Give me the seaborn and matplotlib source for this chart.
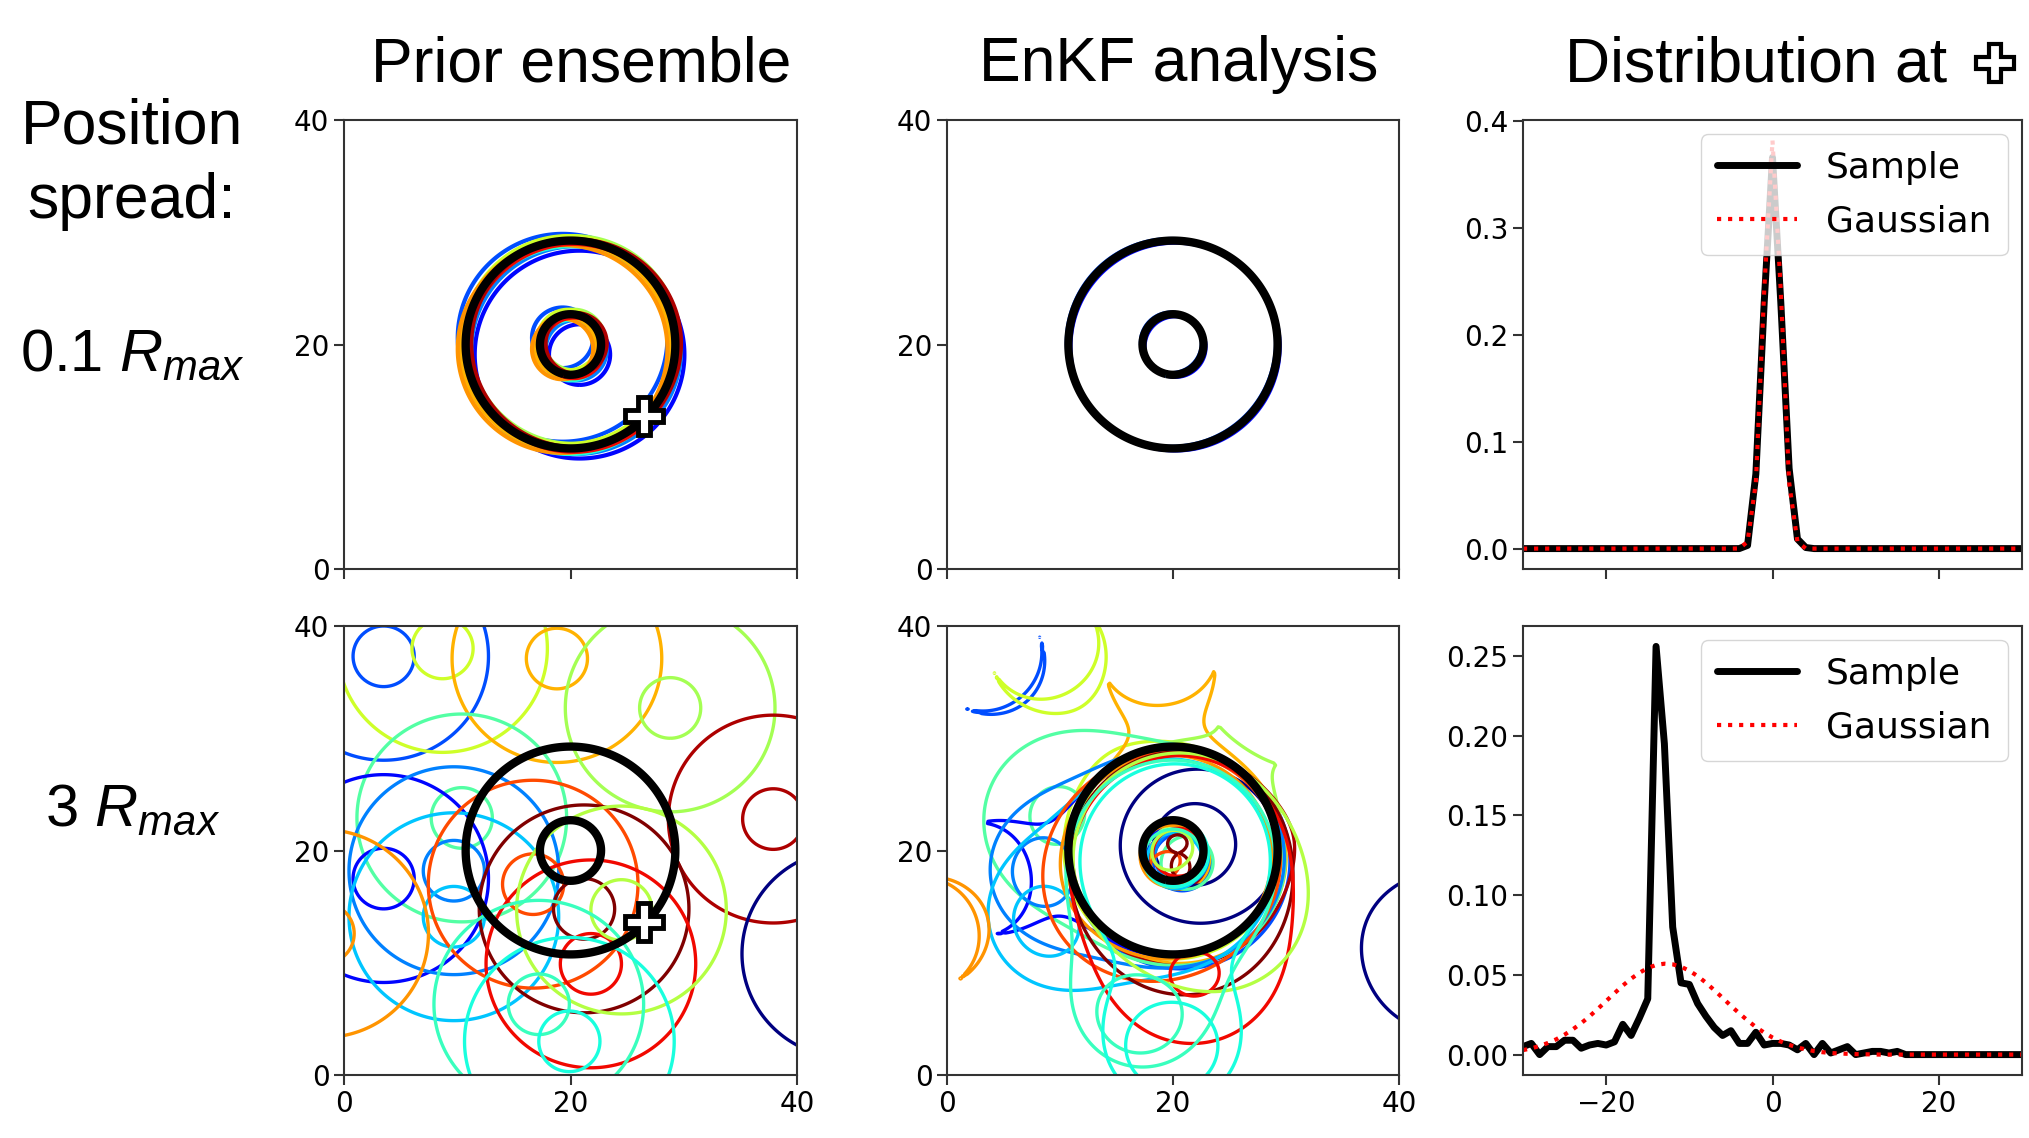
import numpy as np
import matplotlib
matplotlib.use("Agg")
import matplotlib.pyplot as plt
import seaborn as sns
from matplotlib.lines import Line2D

# ---------------- data ----------------
R_MAX = 5.0            # radius of maximum wind
RING_LEVEL = 0.397     # contour level (fraction of max wind) drawn for every vortex
TRUTH_X, TRUTH_Y = 20.0, 20.0
OBS_X, OBS_Y = 26.5, 13.6

# jet colour value of each ensemble member
member_color = [0.20, 0.60, 0.72, 0.55, 0.96, 0.00, 0.45, 0.13, 0.25,
                0.32, 0.75, 0.83, 1.00, 0.90, 0.57, 0.42, 0.38]

# row 1: position spread 0.1 Rmax
prior_small_x = [19.3, 19.8, 19.5, 20.3, 20.5, 20.4, 19.7, 20.8, 20.5,
                 19.9, 19.3, 20.2, 20.1, 20.3, 20.2, 19.9, 20.0]
prior_small_y = [20.6, 20.4, 19.9, 20.4, 20.1, 19.6, 20.1, 19.1, 19.5,
                 19.8, 19.6, 19.9, 20.0, 19.7, 20.2, 19.6, 19.5]
analysis_small_x = [19.82, 20.0, 20.05, 20.0, 20.1, 20.12, 19.95, 20.22, 20.05,
                    20.0, 19.95, 20.0, 20.05, 20.0, 19.98, 20.02, 20.08]
analysis_small_y = [20.18, 20.0, 19.95, 19.9, 20.0, 19.88, 20.0, 19.78, 19.95,
                    20.0, 20.02, 20.0, 19.98, 20.05, 20.0, 19.95, 19.92]

# row 2: position spread 3 Rmax
prior_large_x = [3.5, 8.7, 18.8, 28.8, 37.9, 44.4, 10.4, 3.5, 9.7,
                 9.7, -1.8, 16.7, 21.2, 21.8, 24.5, 17.2, 19.9]
prior_large_y = [37.3, 38.0, 37.1, 32.7, 22.8, 10.8, 22.9, 17.5, 18.2,
                 14.1, 12.6, 17.0, 14.8, 9.9, 14.7, 6.3, 3.0]
# EnKF analysis members: blend of the prior vortex and a re-centred vortex
analysis_large_x = [20.8, 20.0, 20.6, 20.2, 20.4, 22.0, 21.0, 20.3, 20.6,
                    20.0, 19.8, 20.5, 20.5, 20.5, 20.3, 20.0, 20.2]
analysis_large_y = [19.0, 19.6, 19.2, 19.8, 19.2, 20.5, 19.0, 19.8, 19.4,
                    19.0, 19.5, 19.5, 19.8, 19.5, 19.6, 19.2, 19.6]
analysis_prior_weight = [0.30, 0.30, 0.25, 0.14, 0.12, 0.60, 0.48, 0.26, 0.32,
                         0.35, 0.30, 0.45, 0.40, 0.45, 0.35, 0.33, 0.38]
analysis_center_weight = [1.00, 0.95, 0.95, 0.95, 1.00, 0.55, 0.80, 0.90, 0.90,
                          0.85, 0.90, 0.70, 0.75, 0.80, 0.80, 0.85, 0.75]

# distributions at the + point
dist_x = list(range(-30, 31))
sample_small = [0, 0, 0, 0, 0, 0, 0, 0, 0, 0,
                0, 0, 0, 0, 0, 0, 0, 0, 0, 0,
                0, 0, 0, 0, 0, 0, 0, 0.003, 0.07, 0.23,
                0.366, 0.23, 0.075, 0.009, 0.001, 0, 0, 0, 0, 0,
                0, 0, 0, 0, 0, 0, 0, 0, 0, 0,
                0, 0, 0, 0, 0, 0, 0, 0, 0, 0, 0]
gauss_small = [0, 0, 0, 0, 0, 0, 0, 0, 0, 0,
               0, 0, 0, 0, 0, 0, 0, 0, 0, 0,
               0, 0, 0, 0, 0, 0, 0.0001, 0.0064, 0.0617, 0.241,
               0.382, 0.241, 0.0617, 0.0064, 0.0001, 0, 0, 0, 0, 0,
               0, 0, 0, 0, 0, 0, 0, 0, 0, 0,
               0, 0, 0, 0, 0, 0, 0, 0, 0, 0, 0]
sample_large = [0.005, 0.007, 0.000, 0.005, 0.005, 0.009, 0.009, 0.004, 0.006, 0.007,
                0.006, 0.008, 0.019, 0.012, 0.023, 0.035, 0.256, 0.195, 0.080, 0.045,
                0.044, 0.032, 0.024, 0.017, 0.012, 0.015, 0.007, 0.007, 0.014, 0.006,
                0.007, 0.007, 0.006, 0.003, 0.007, 0.000, 0.007, 0.001, 0.003, 0.005,
                0.000, 0.001, 0.002, 0.002, 0.001, 0.002, 0.000, 0, 0, 0,
                0, 0, 0, 0, 0, 0, 0, 0, 0, 0, 0]
gauss_large = [0.0028, 0.0039, 0.0054, 0.0073, 0.0096, 0.0125, 0.0159, 0.0197, 0.0240, 0.0287,
               0.0336, 0.0385, 0.0433, 0.0476, 0.0513, 0.0543, 0.0562, 0.0570, 0.0566, 0.0551,
               0.0526, 0.0492, 0.0451, 0.0404, 0.0356, 0.0306, 0.0259, 0.0214, 0.0173, 0.0138,
               0.0107, 0.0082, 0.0061, 0.0045, 0.0032, 0.0022, 0.0015, 0.0010, 0.0007, 0.0005,
               0.0003, 0.0002, 0.0001, 0, 0, 0, 0, 0, 0, 0,
               0, 0, 0, 0, 0, 0, 0, 0, 0, 0, 0]

col_titles = ["Prior ensemble", "EnKF analysis", "Distribution at"]
row_labels = ["0.1 $R_{max}$", "3 $R_{max}$"]

# ---------------- style ----------------
sns.set_theme(style="ticks", rc={
    "axes.edgecolor": "0.2", "axes.linewidth": 1.5,
    "xtick.color": "0.2", "ytick.color": "0.2",
    "xtick.labelcolor": "black", "ytick.labelcolor": "black",
    "xtick.major.size": 7, "ytick.major.size": 7,
    "xtick.major.width": 1.5, "ytick.major.width": 1.5,
    "xtick.labelsize": 20, "ytick.labelsize": 20,
    "text.color": "black", "axes.labelcolor": "black",
})
plt.rcParams["font.family"] = ["DejaVu Sans"]
plt.rcParams["mathtext.fontset"] = "custom"
plt.rcParams["mathtext.rm"] = "Liberation Sans"
plt.rcParams["mathtext.it"] = "Liberation Sans:italic"

W, H = 2029, 1138
fig = plt.figure(figsize=(W / 100, H / 100), dpi=100)
cmap = matplotlib.colormaps["jet"]


def px_axes(left, top, right, bottom):
    return fig.add_axes([left / W, 1 - bottom / H, (right - left) / W, (bottom - top) / H])


gx = np.linspace(-2, 42, 221)
GX, GY = np.meshgrid(gx, gx)


def vortex(cx, cy):
    q = np.hypot(GX - cx, GY - cy) / R_MAX
    q = np.maximum(q, 1e-6)
    return np.where(q < 1, q ** 1.5, q ** -1.5)


def draw_field(ax, field, color, lw, z=2):
    ax.contour(GX, GY, field, levels=[RING_LEVEL], colors=[color],
               linewidths=lw, zorder=z)


def finish_map(ax, show_xlabels):
    draw_field(ax, vortex(TRUTH_X, TRUTH_Y), "black", 6, z=5)
    ax.set_xlim(0, 40)
    ax.set_ylim(0, 40)
    ax.set_xticks([0, 20, 40])
    ax.set_yticks([0, 20, 40])
    if not show_xlabels:
        ax.set_xticklabels([])


def add_obs(ax):
    ax.plot([OBS_X], [OBS_Y], marker="P", ms=28, mfc="white", mec="black",
            mew=3.5, ls="none", zorder=10, clip_on=False)


rows_top = [120, 626]
rows_bot = [569, 1075]
n_members = len(member_color)

for r in range(2):
    t, b = rows_top[r], rows_bot[r]
    ax_p = px_axes(344, t, 797, b)
    ax_a = px_axes(947, t, 1399, b)
    ax_d = px_axes(1523, t, 2022, b)

    if r == 0:
        px_, py_ = prior_small_x, prior_small_y
        lw = 3
        order = sorted(range(n_members), key=lambda k: member_color[k])
    else:
        px_, py_ = prior_large_x, prior_large_y
        lw = 2.4
        order = list(range(n_members))

    # prior ensemble
    for i in order:
        draw_field(ax_p, vortex(px_[i], py_[i]), cmap(member_color[i]), lw)
    finish_map(ax_p, r == 1)
    add_obs(ax_p)

    # EnKF analysis
    for i in range(n_members):
        if r == 0:
            f = vortex(analysis_small_x[i], analysis_small_y[i])
        else:
            f = (analysis_prior_weight[i] * vortex(prior_large_x[i], prior_large_y[i])
                 + analysis_center_weight[i] * vortex(analysis_large_x[i], analysis_large_y[i]))
        draw_field(ax_a, f, cmap(member_color[i]), 2.4)
    finish_map(ax_a, r == 1)

    # distributions
    s = sample_small if r == 0 else sample_large
    g = gauss_small if r == 0 else gauss_large
    sns.lineplot(x=dist_x, y=s, ax=ax_d, color="black", lw=5, label="Sample")
    sns.lineplot(x=dist_x, y=g, ax=ax_d, color="red", lw=3, ls=":", label="Gaussian")
    ax_d.set_xlim(-30, 30)
    ax_d.set_xticks([-20, 0, 20])
    if r == 0:
        ax_d.set_xticklabels([])
        ax_d.set_yticks([0.0, 0.1, 0.2, 0.3, 0.4])
    else:
        ax_d.set_yticks([0.0, 0.05, 0.10, 0.15, 0.20, 0.25])
    ax_d.set_xlabel("")
    ax_d.set_ylabel("")
    ax_d.legend(loc="upper right", fontsize=26, handlelength=2.2,
                labelspacing=0.55, borderpad=0.45, handletextpad=0.8,
                borderaxespad=0.4)

# ---------------- text ----------------
tfont = dict(family="Liberation Sans", size=45, color="black")
fig.text(581 / W, 1 - 81 / H, col_titles[0], ha="center", va="baseline", **tfont)
fig.text(1179 / W, 1 - 81 / H, col_titles[1], ha="center", va="baseline", **tfont)
fig.text(1565 / W, 1 - 81 / H, col_titles[2], ha="left", va="baseline", **tfont)
fig.add_artist(Line2D([1995 / W], [1 - 63 / H], transform=fig.transFigure,
                      marker="P", ms=27, mfc="white", mec="black", mew=3, ls="none"))

fig.text(21 / W, 1 - 143 / H, "Position", ha="left", va="baseline", **tfont)
fig.text(27 / W, 1 - 218 / H, "spread:", ha="left", va="baseline", **tfont)
fig.text(133 / W, 1 - 371 / H, row_labels[0], ha="center", va="baseline",
         family="Liberation Sans", size=43)
fig.text(133 / W, 1 - 826 / H, row_labels[1], ha="center", va="baseline",
         family="Liberation Sans", size=43)

fig.savefig("out.png", dpi=100)
